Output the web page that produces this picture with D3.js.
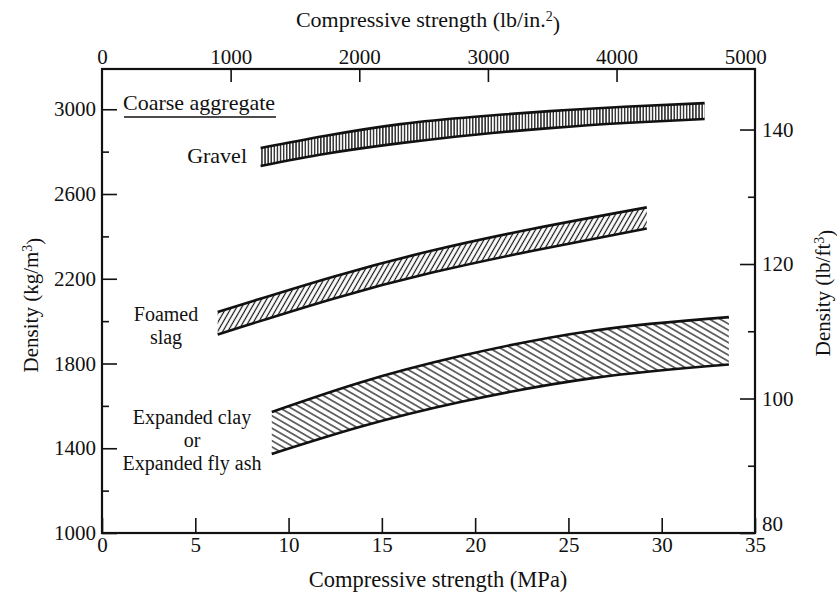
<!DOCTYPE html>
<html>
<head>
<meta charset="utf-8">
<script src="https://cdn.jsdelivr.net/npm/d3@7"></script>
<style>
  html, body { margin: 0; padding: 0; background: #fff; }
  svg { display: block; }
  text { font-family: "Liberation Serif", "DejaVu Serif", serif; fill: #111; }
</style>
</head>
<body>
<svg id="chart" width="837" height="596"></svg>
<script>
// ---- data ----
const xTicksMPa = [0, 5, 10, 15, 20, 25, 30, 35];
const xTicksPsi = [0, 1000, 2000, 3000, 4000, 5000];
const yTicksKg = [1000, 1400, 1800, 2200, 2600, 3000];
const yMinorKg = [1200, 1600, 2000, 2400, 2800];
const yTicksLb = [80, 100, 120, 140];
const yMinorLb = [90, 110, 130];

const gravelX    = [8.5, 12, 16, 20, 24, 28, 32.3];
const gravelLow  = [2732, 2790, 2840, 2880, 2911, 2935, 2954];
const gravelHigh = [2817, 2875, 2930, 2965, 2991, 3012, 3029];

const slagX    = [6.2, 12.4, 17.7, 23.1, 29.2];
const slagLow  = [1937, 2106, 2229, 2332, 2437];
const slagHigh = [2043, 2210, 2333, 2436, 2537];

const clayX    = [9.1, 13.8, 19.2, 26.3, 33.6];
const clayLow  = [1373, 1500, 1618, 1731, 1795];
const clayHigh = [1571, 1709, 1835, 1955, 2019];

// ---- layout ----
const L = 102, R = 755, T = 69, B = 533;
const svg = d3.select("#chart");

const x = d3.scaleLinear().domain([0, 35]).range([L, R]);
const xPsi = d3.scaleLinear().domain([0, 35 * 145.038]).range([L, R]);
const y = d3.scaleLinear().domain([1000, 3190]).range([B, T]);
const yLb = d3.scaleLinear().domain([80, 149]).range([B, T]);

// ---- hatch patterns ----
const defs = svg.append("defs");
function hatch(id, spacing, angle, sw, horizontal) {
  const p = defs.append("pattern")
    .attr("id", id).attr("patternUnits", "userSpaceOnUse")
    .attr("width", spacing).attr("height", spacing)
    .attr("patternTransform", `rotate(${angle})`);
  if (horizontal) {
    p.append("line").attr("x1", 0).attr("x2", spacing)
      .attr("y1", spacing / 2).attr("y2", spacing / 2)
      .attr("stroke", "#111").attr("stroke-width", sw);
  } else {
    p.append("line").attr("y1", 0).attr("y2", spacing)
      .attr("x1", spacing / 2).attr("x2", spacing / 2)
      .attr("stroke", "#111").attr("stroke-width", sw);
  }
}
hatch("hGravel", 3.1, 0, 1.3, false);
hatch("hSlag", 4.4, 30, 1.2, false);
hatch("hClay", 5.4, 30, 1.2, true);

// ---- bands ----
function band(xs, lo, hi, pid) {
  const pts = xs.map((v, i) => ({ x: v, lo: lo[i], hi: hi[i] }));
  const curve = d3.curveNatural;
  const area = d3.area().curve(curve)
    .x(d => x(d.x)).y0(d => y(d.lo)).y1(d => y(d.hi));
  svg.append("path").datum(pts).attr("d", area)
    .attr("fill", `url(#${pid})`).attr("stroke", "none");
  const lineLo = d3.line().curve(curve).x(d => x(d.x)).y(d => y(d.lo));
  const lineHi = d3.line().curve(curve).x(d => x(d.x)).y(d => y(d.hi));
  [lineLo, lineHi].forEach(ln => {
    svg.append("path").datum(pts).attr("d", ln)
      .attr("fill", "none").attr("stroke", "#111").attr("stroke-width", 2.6);
  });
}
band(gravelX, gravelLow, gravelHigh, "hGravel");
band(slagX, slagLow, slagHigh, "hSlag");
band(clayX, clayLow, clayHigh, "hClay");

// ---- axes ----
function styleAxis(g) {
  g.select(".domain").remove();
  g.selectAll(".tick line").attr("stroke", "#111").attr("stroke-width", 1.6);
  g.selectAll(".tick text").style("font-size", "21px")
    .style("font-family", '"Liberation Serif", serif').attr("fill", "#111");
}

// left
svg.append("g").attr("transform", `translate(${L},0)`)
  .call(d3.axisLeft(y).tickValues(yTicksKg).tickFormat(d3.format("d")).tickSize(-15).tickPadding(6))
  .call(styleAxis);
svg.append("g").attr("transform", `translate(${L},0)`)
  .call(d3.axisLeft(y).tickValues(yMinorKg).tickFormat("").tickSize(-7))
  .call(styleAxis);

// right
svg.append("g").attr("transform", `translate(${R},0)`)
  .call(d3.axisRight(yLb).tickValues(yTicksLb).tickFormat(d3.format("d")).tickSize(-15).tickPadding(7))
  .call(styleAxis)
  .call(g => g.selectAll(".tick").filter(d => d === 80).select("text").attr("dy", "-0.1em"));
svg.append("g").attr("transform", `translate(${R},0)`)
  .call(d3.axisRight(yLb).tickValues(yMinorLb).tickFormat("").tickSize(-7))
  .call(styleAxis);

// bottom
svg.append("g").attr("transform", `translate(0,${B})`)
  .call(d3.axisBottom(x).tickValues(xTicksMPa).tickFormat(d3.format("d")).tickSize(-15).tickPadding(4))
  .call(styleAxis);

// top
svg.append("g").attr("transform", `translate(0,${T})`)
  .call(d3.axisTop(xPsi).tickValues(xTicksPsi).tickFormat(d3.format("d")).tickSize(-13).tickPadding(5))
  .call(styleAxis)
  .call(g => g.selectAll(".tick").filter(d => d === 0 || d === 5000).select("line").remove());

// frame
svg.append("rect").attr("x", L).attr("y", T).attr("width", R - L).attr("height", B - T)
  .attr("fill", "none").attr("stroke", "#111").attr("stroke-width", 2.2);

// ---- titles ----
svg.append("text").attr("x", 438).attr("y", 587).attr("text-anchor", "middle")
  .style("font-size", "22.5px").text("Compressive strength (MPa)");

const topT = svg.append("text").attr("x", 428).attr("y", 27).attr("text-anchor", "middle")
  .style("font-size", "22px");
topT.append("tspan").text("Compressive strength (lb/in.");
topT.append("tspan").attr("dy", "-0.45em").style("font-size", "14px").text("2");
topT.append("tspan").attr("dy", "0.45em").text(")");

const lt = svg.append("text").attr("transform", `translate(38,${(T + B) / 2 + 4}) rotate(-90)`)
  .attr("text-anchor", "middle").style("font-size", "21px");
lt.append("tspan").text("Density (kg/m");
lt.append("tspan").attr("dy", "-0.45em").style("font-size", "14px").text("3");
lt.append("tspan").attr("dy", "0.45em").text(")");

const rt = svg.append("text").attr("transform", `translate(830,293) rotate(-90)`)
  .attr("text-anchor", "middle").style("font-size", "21px");
rt.append("tspan").text("Density (lb/ft");
rt.append("tspan").attr("dy", "-0.45em").style("font-size", "14px").text("3");
rt.append("tspan").attr("dy", "0.45em").text(")");

// ---- band labels ----
svg.append("text").attr("x", 123).attr("y", 110).style("font-size", "22px").text("Coarse aggregate");
svg.append("line").attr("x1", 124).attr("x2", 276).attr("y1", 117).attr("y2", 117)
  .attr("stroke", "#111").attr("stroke-width", 1.6);

svg.append("text").attr("x", 247).attr("y", 163).attr("text-anchor", "end")
  .style("font-size", "22px").text("Gravel");

function multiLine(lines, cx, y0, step) {
  const t = svg.append("text").attr("text-anchor", "middle").style("font-size", "20px");
  lines.forEach((s, i) => {
    t.append("tspan").attr("x", cx).attr("y", y0 + i * step).text(s);
  });
}
multiLine(["Foamed", "slag"], 166, 321, 23);
multiLine(["Expanded clay", "or", "Expanded fly ash"], 192, 424, 23);
</script>
</body>
</html>
